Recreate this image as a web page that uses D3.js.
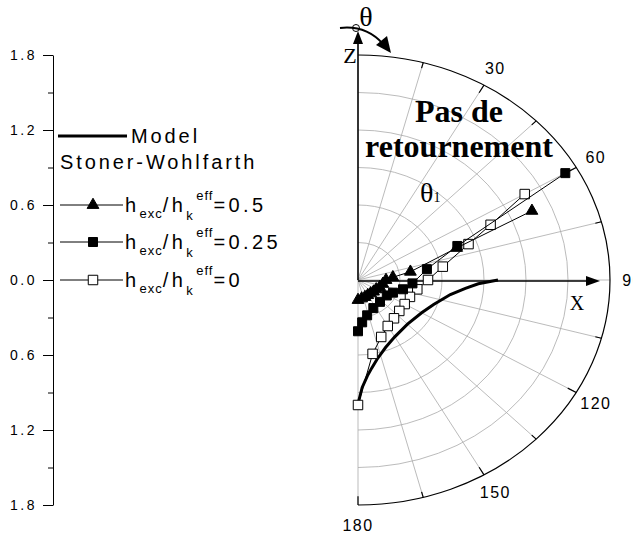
<!DOCTYPE html>
<html lang="en">
<head>
<meta charset="UTF-8">
<title>Polar switching field</title>
<script src="https://d3js.org/d3.v7.min.js"></script>
<style>
  body { margin: 0; background: #fff; }
  svg { display: block; }
</style>
</head>
<body>
<div id="chart"></div>
<script>
// angle theta in degrees (from z, clockwise), radius in field units
const modelTheta = [90, 92, 95, 100, 110, 120, 135, 150, 160, 168, 172, 175, 178, 180];
const modelR     = [1.0, 0.86, 0.77, 0.67, 0.575, 0.525, 0.5, 0.525, 0.575, 0.65, 0.71, 0.77, 0.86, 0.99];

const tri05Theta = [66, 70, 80, 85, 90, 100, 110, 120, 130, 140, 150, 160, 170, 180];
const tri05R     = [1.36, 0.75, 0.38, 0.25, 0.2, 0.18, 0.165, 0.15, 0.145, 0.14, 0.14, 0.145, 0.15, 0.16];

const sq025Theta = [60, 69, 80, 94, 103, 112, 121, 138, 154, 167, 175, 180];
const sq025R     = [1.71, 0.76, 0.5, 0.39, 0.33, 0.27, 0.24, 0.235, 0.25, 0.29, 0.34, 0.41];

const open0Theta = [60, 65, 70, 80, 90, 100, 110, 120, 130, 140, 150, 160, 170, 180];
const open0R     = [1.375, 1.045, 0.84, 0.615, 0.5, 0.43, 0.395, 0.385, 0.385, 0.4, 0.425, 0.485, 0.6, 1.0];

const angleLabels = [30, 60, 90, 120, 150, 180];
const ringValues = [0.3, 0.6, 0.9, 1.2, 1.5];
const leftTicks = [-1.8, -1.2, -0.6, 0, 0.6, 1.2, 1.8];
const leftMinor = [-1.5, -0.9, -0.3, 0.3, 0.9, 1.5];

const width = 633, height = 537;
const cx = 358, cy = 280, rMax = 1.8;

const svg = d3.select("#chart").append("svg")
    .attr("width", width)
    .attr("height", height);

const rx = d3.scaleLinear().domain([0, rMax]).range([0, 252]);
const ry = d3.scaleLinear().domain([0, rMax]).range([0, 225]);
const rad = d => d * Math.PI / 180;
const px = (t, r) => cx + rx(r) * Math.sin(rad(t));
const py = (t, r) => cy - ry(r) * Math.cos(rad(t));

// ---- left axis ----
const yLeft = d3.scaleLinear().domain([-1.8, 1.8]).range([505, 55]);
const leftAxis = svg.append("g")
    .attr("transform", "translate(53,0)")
    .call(d3.axisLeft(yLeft).tickValues(leftTicks).tickSize(10).tickSizeOuter(0).tickPadding(6)
        .tickFormat(d => Math.abs(d).toFixed(1)));
leftAxis.selectAll("text")
    .style("font-family", "Liberation Sans, Arial, sans-serif")
    .style("font-size", "14px")
    .style("letter-spacing", "2.5px")
    .attr("fill", "#000");
leftAxis.select(".domain").attr("stroke-width", 1);
svg.append("g")
    .attr("transform", "translate(53,0)")
    .call(d3.axisLeft(yLeft).tickValues(leftMinor).tickSize(5).tickSizeOuter(0).tickFormat(""))
    .select(".domain").remove();

// ---- polar grid ----
const grid = svg.append("g");
ringValues.forEach(v => {
    grid.append("path")
        .attr("d", `M${cx},${py(0, v)} A${rx(v)},${ry(v)} 0 0 1 ${cx},${py(180, v)}`)
        .attr("fill", "none")
        .attr("stroke", "#aaa")
        .attr("stroke-width", 0.8);
});
d3.range(15, 181, 15).forEach(t => {
    grid.append("line")
        .attr("x1", cx).attr("y1", cy)
        .attr("x2", px(t, rMax)).attr("y2", py(t, rMax))
        .attr("stroke", "#aaa")
        .attr("stroke-width", 0.8);
});
// outer ring
svg.append("path")
    .attr("d", `M${cx},${py(0, rMax)} A${rx(rMax)},${ry(rMax)} 0 0 1 ${cx},${py(180, rMax)}`)
    .attr("fill", "none")
    .attr("stroke", "#000")
    .attr("stroke-width", 1.2);
// ticks on outer ring
d3.range(15, 181, 15).filter(t => t !== 90).forEach(t => {
    const len = t % 30 === 0 ? 0.07 : 0.045;
    svg.append("line")
        .attr("x1", px(t, rMax)).attr("y1", py(t, rMax))
        .attr("x2", px(t, rMax - len)).attr("y2", py(t, rMax - len))
        .attr("stroke", "#000")
        .attr("stroke-width", 1.2);
});
// angle labels (the 90 runs off the right edge, as in the source)
svg.selectAll(".alab")
    .data(angleLabels)
    .enter().append("text")
    .attr("x", d => px(d, rMax * 1.09))
    .attr("y", d => py(d, rMax * 1.09) + 6)
    .attr("text-anchor", "middle")
    .style("font-family", "Liberation Sans, Arial, sans-serif")
    .style("font-size", "16px")
    .style("letter-spacing", "1.5px")
    .text(d => d);

// ---- axes arrows ----
svg.append("line")
    .attr("x1", cx).attr("y1", cy).attr("x2", cx).attr("y2", 42)
    .attr("stroke", "#000").attr("stroke-width", 1.6);
svg.append("path")
    .attr("d", `M${cx},31 L${cx - 5},44 L${cx + 5},44 Z`)
    .attr("fill", "#000");
svg.append("line")
    .attr("x1", cx).attr("y1", cy + 1).attr("x2", 590).attr("y2", cy + 1)
    .attr("stroke", "#000").attr("stroke-width", 1.6);
svg.append("path")
    .attr("d", `M600,${cy + 1} L586,${cy - 4} L586,${cy + 6} Z`)
    .attr("fill", "#000");

// theta arrow at top
svg.append("path")
    .attr("d", "M340,28 Q366,25 383,44")
    .attr("fill", "none").attr("stroke", "#000").attr("stroke-width", 2);
svg.append("path")
    .attr("d", "M391,53 L376,45 L387,36 Z")
    .attr("fill", "#000");
svg.append("circle")
    .attr("cx", 356).attr("cy", 28).attr("r", 3.5)
    .attr("fill", "none").attr("stroke", "#000").attr("stroke-width", 1);

const serif = "Liberation Serif, Times New Roman, serif";
svg.append("text").attr("x", 366).attr("y", 26).attr("text-anchor", "middle")
    .style("font-family", serif).style("font-size", "28px").text("θ");
svg.append("text").attr("x", 350).attr("y", 63).attr("text-anchor", "middle")
    .style("font-family", serif).style("font-size", "22px").text("Z");
svg.append("text").attr("x", 577).attr("y", 310).attr("text-anchor", "middle")
    .style("font-family", serif).style("font-size", "20px").text("X");
svg.append("text").attr("x", 459).attr("y", 122).attr("text-anchor", "middle")
    .style("font-family", serif).style("font-size", "32px").style("font-weight", "bold").text("Pas de");
svg.append("text").attr("x", 459).attr("y", 157).attr("text-anchor", "middle")
    .style("font-family", serif).style("font-size", "32px").style("font-weight", "bold").text("retournement");
const th1 = svg.append("text").attr("x", 420).attr("y", 202)
    .style("font-family", serif).style("font-size", "28px");
th1.append("tspan").text("θ");
th1.append("tspan").style("font-size", "14px").text("1");

// ---- data ----
const line = d3.line();
const toPts = (th, r) => th.map((t, i) => [px(t, r[i]), py(t, r[i])]);

svg.append("path")
    .attr("d", line(toPts(modelTheta, modelR)))
    .attr("fill", "none").attr("stroke", "#000").attr("stroke-width", 3);

const series = [
    { th: open0Theta, r: open0R, type: d3.symbolSquare, size: 90, fill: "#fff" },
    { th: sq025Theta, r: sq025R, type: d3.symbolSquare, size: 81, fill: "#000" },
    { th: tri05Theta, r: tri05R, type: d3.symbolTriangle, size: 60, fill: "#000" }
];
series.forEach(s => {
    const p = toPts(s.th, s.r);
    svg.append("path")
        .attr("d", line(p))
        .attr("fill", "none").attr("stroke", "#000").attr("stroke-width", 1);
    svg.append("g").selectAll("path")
        .data(p)
        .enter().append("path")
        .attr("transform", d => `translate(${d[0]},${d[1]})`)
        .attr("d", d3.symbol().type(s.type).size(s.size))
        .attr("fill", s.fill)
        .attr("stroke", "#000")
        .attr("stroke-width", 1);
});

// ---- legend ----
const sans = "Liberation Sans, Arial, sans-serif";
const legend = svg.append("g");
legend.append("line").attr("x1", 58).attr("x2", 127).attr("y1", 136).attr("y2", 136)
    .attr("stroke", "#000").attr("stroke-width", 3);
legend.append("text").attr("x", 131).attr("y", 143)
    .style("font-family", sans).style("font-size", "20px").style("letter-spacing", "2.9px")
    .text("Model");
legend.append("text").attr("x", 60).attr("y", 169)
    .style("font-family", sans).style("font-size", "20px").style("letter-spacing", "2.9px")
    .text("Stoner-Wohlfarth");

const legendRows = [
    { y: 205, value: "0.5", type: d3.symbolTriangle, size: 60, fill: "#000" },
    { y: 242, value: "0.25", type: d3.symbolSquare, size: 81, fill: "#000" },
    { y: 280, value: "0", type: d3.symbolSquare, size: 90, fill: "#fff" }
];
legendRows.forEach(row => {
    legend.append("line").attr("x1", 60).attr("x2", 123).attr("y1", row.y).attr("y2", row.y)
        .attr("stroke", "#000").attr("stroke-width", 1);
    legend.append("path")
        .attr("transform", `translate(93,${row.y})`)
        .attr("d", d3.symbol().type(row.type).size(row.size))
        .attr("fill", row.fill).attr("stroke", "#000").attr("stroke-width", 1);
    const t = legend.append("text").attr("x", 125).attr("y", row.y + 7)
        .style("font-family", sans).style("font-size", "20px").style("letter-spacing", "3.4px");
    t.append("tspan").text("h");
    t.append("tspan").attr("dy", 6).style("font-size", "13px").style("letter-spacing", "1px").text("exc");
    t.append("tspan").attr("dy", -6).text("/h");
    t.append("tspan").attr("dy", 8).style("font-size", "13px").text("k");
    t.append("tspan").attr("dy", -20).style("font-size", "13px").style("letter-spacing", "1px").text("eff");
    t.append("tspan").attr("dy", 12).text("=" + row.value);
});
</script>
</body>
</html>
